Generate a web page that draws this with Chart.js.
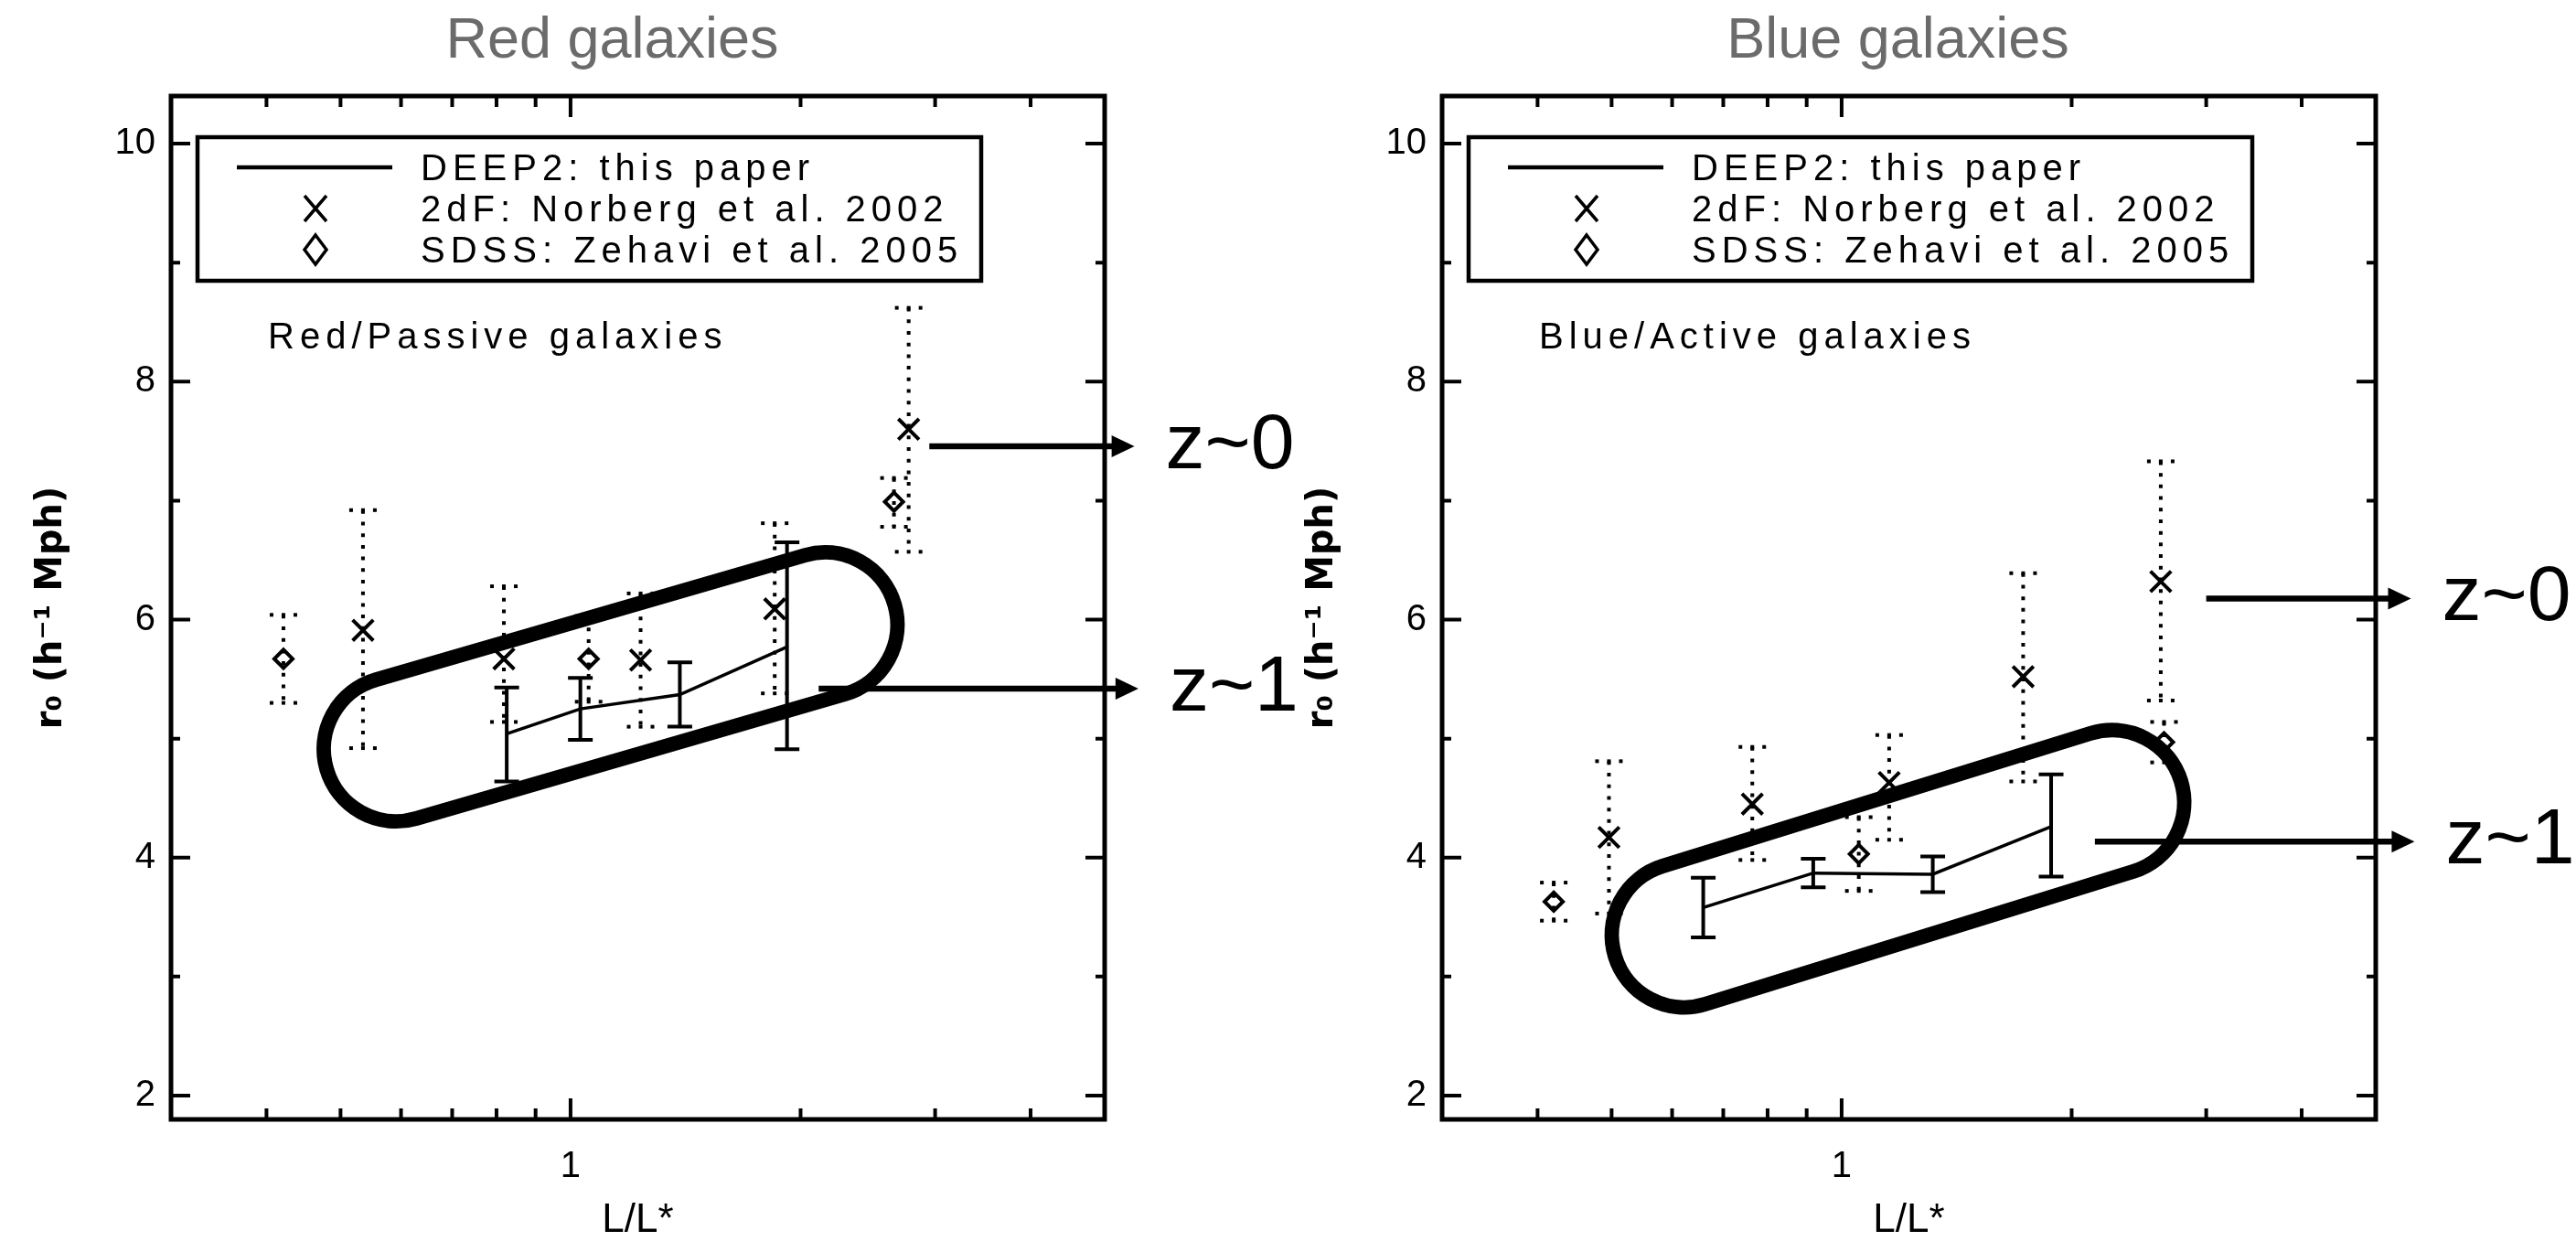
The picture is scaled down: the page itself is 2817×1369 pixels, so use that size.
<!DOCTYPE html>
<html>
<head>
<meta charset="utf-8">
<title>r0 vs L/L* — red and blue galaxies</title>
<script src="https://cdn.jsdelivr.net/npm/chart.js@4.4.1/dist/chart.umd.min.js"></script>
<style>
  html, body { margin: 0; padding: 0; background: #fff; }
  body { width: 2817px; height: 1369px; position: relative; overflow: hidden; }
  canvas { position: absolute; top: 0; }
  #red { left: 0; }
  #blue { left: 1390px; }
</style>
</head>
<body>
<canvas id="red" width="1427" height="1369"></canvas>
<canvas id="blue" width="1427" height="1369"></canvas>
<script>
// axes: log L/L* along x, r0 along y
const xRange = [0.3, 5];
const yRange = [1.8, 10.4];
const xMajorTicks = [1];
const xMinorTicks = [0.4, 0.5, 0.6, 0.7, 0.8, 0.9, 2, 3, 4];
const yMajorTicks = [2, 4, 6, 8, 10];
const yMinorTicks = [3, 5, 7, 9];

const legendLabels = ['DEEP2: this paper', '2dF: Norberg et al. 2002', 'SDSS: Zehavi et al. 2005'];

// red / passive sample
const redDeepL = [0.825, 1.03, 1.39, 1.92];
const redDeepR0 = [5.04, 5.25, 5.37, 5.77];
const redDeepLo = [4.64, 4.99, 5.10, 4.91];
const redDeepHi = [5.43, 5.51, 5.64, 6.65];

const red2dfL = [0.535, 0.818, 1.235, 1.85, 2.77];
const red2dfR0 = [5.91, 5.67, 5.66, 6.09, 7.60];
const red2dfLo = [4.92, 5.14, 5.10, 5.38, 6.57];
const red2dfHi = [6.92, 6.28, 6.22, 6.81, 8.62];

const redSdssL = [0.421, 1.056, 2.65];
const redSdssR0 = [5.67, 5.67, 6.99];
const redSdssLo = [5.30, 5.31, 6.78];
const redSdssHi = [6.04, 6.03, 7.19];

// blue / active sample
const blueDeepL = [0.659, 0.918, 1.316, 1.88];
const blueDeepR0 = [3.58, 3.87, 3.86, 4.26];
const blueDeepLo = [3.33, 3.75, 3.71, 3.84];
const blueDeepHi = [3.83, 3.99, 4.01, 4.70];

const blue2dfL = [0.496, 0.764, 1.154, 1.728, 2.616];
const blue2dfR0 = [4.17, 4.45, 4.63, 5.52, 6.32];
const blue2dfLo = [3.53, 3.98, 4.15, 4.64, 5.32];
const blue2dfHi = [4.81, 4.93, 5.03, 6.39, 7.33];

const blueSdssL = [0.420, 1.053, 2.642];
const blueSdssR0 = [3.63, 4.03, 4.97];
const blueSdssLo = [3.47, 3.72, 4.80];
const blueSdssHi = [3.79, 4.34, 5.14];

const sans = '"Liberation Sans", Arial, sans-serif';

const panels = [
  {
    canvas: 'red', title: 'Red galaxies', titleShift: -28, note: 'Red/Passive galaxies',
    deep: [redDeepL, redDeepR0, redDeepLo, redDeepHi],
    tdf: [red2dfL, red2dfR0, red2dfLo, red2dfHi],
    sdss: [redSdssL, redSdssR0, redSdssLo, redSdssHi],
    // outline round the DEEP2 points, given by its two end centres
    ring: { a: [0.591, 4.912], b: [2.154, 5.958] },
    arrows: [
      { label: 'z~0', r0: 7.456, from: 2.948, to: 5.47 },
      { label: 'z~1', r0: 5.419, from: 2.112, to: 5.535 }
    ]
  },
  {
    canvas: 'blue', title: 'Blue galaxies', titleShift: -12, note: 'Blue/Active galaxies',
    deep: [blueDeepL, blueDeepR0, blueDeepLo, blueDeepHi],
    tdf: [blue2dfL, blue2dfR0, blue2dfLo, blue2dfHi],
    sdss: [blueSdssL, blueSdssR0, blueSdssLo, blueSdssHi],
    ring: { a: [0.622, 3.349], b: [2.258, 4.464] },
    arrows: [
      { label: 'z~0', r0: 6.177, from: 3.0, to: 5.56 },
      { label: 'z~1', r0: 4.134, from: 2.145, to: 5.62 }
    ]
  }
];

function points(xs, ys) {
  return xs.map((x, i) => ({ x, y: ys[i] }));
}

function errorBars(chart, [xs, , lo, hi], dotted) {
  const { ctx, scales: { x, y } } = chart;
  ctx.save();
  ctx.strokeStyle = '#000';
  ctx.fillStyle = '#000';
  ctx.lineWidth = 4;
  xs.forEach((v, i) => {
    const px = x.getPixelForValue(v);
    const top = y.getPixelForValue(hi[i]);
    const bot = y.getPixelForValue(lo[i]);
    if (dotted) {
      ctx.setLineDash([4, 8.7]);
      ctx.beginPath();
      ctx.moveTo(px, top);
      ctx.lineTo(px, bot);
      ctx.stroke();
      ctx.setLineDash([]);
      // dotted caps
      [top, bot].forEach(py => [-13, 0, 13].forEach(dx => ctx.fillRect(px + dx - 2, py - 2, 4, 4)));
    } else {
      ctx.beginPath();
      ctx.moveTo(px, top);
      ctx.lineTo(px, bot);
      ctx.moveTo(px - 13.5, top);
      ctx.lineTo(px + 13.5, top);
      ctx.moveTo(px - 13.5, bot);
      ctx.lineTo(px + 13.5, bot);
      ctx.stroke();
    }
  });
  ctx.restore();
}

function drawRing(chart, ring) {
  const { ctx, scales: { x, y } } = chart;
  const a = { x: x.getPixelForValue(ring.a[0]), y: y.getPixelForValue(ring.a[1]) };
  const b = { x: x.getPixelForValue(ring.b[0]), y: y.getPixelForValue(ring.b[1]) };
  const t = Math.atan2(b.y - a.y, b.x - a.x);
  const r = 79;
  ctx.save();
  ctx.lineWidth = 16;
  ctx.strokeStyle = '#000';
  ctx.beginPath();
  ctx.arc(b.x, b.y, r, t - Math.PI / 2, t + Math.PI / 2);
  ctx.arc(a.x, a.y, r, t + Math.PI / 2, t + 3 * Math.PI / 2);
  ctx.closePath();
  ctx.stroke();
  ctx.restore();
}

function drawArrow(chart, arrow) {
  const { ctx, scales: { x, y } } = chart;
  const py = y.getPixelForValue(arrow.r0);
  const x0 = x.getPixelForValue(arrow.from);
  const x1 = x.getPixelForValue(arrow.to);
  ctx.save();
  ctx.strokeStyle = '#000';
  ctx.fillStyle = '#000';
  ctx.lineWidth = 6.5;
  ctx.beginPath();
  ctx.moveTo(x0, py);
  ctx.lineTo(x1 - 20, py);
  ctx.stroke();
  ctx.beginPath();
  ctx.moveTo(x1, py);
  ctx.lineTo(x1 - 25, py - 12);
  ctx.lineTo(x1 - 25, py + 12);
  ctx.closePath();
  ctx.fill();
  ctx.font = '86px ' + sans;
  ctx.textBaseline = 'middle';
  ctx.textAlign = 'left';
  ctx.fillText(arrow.label, x1 + 34, py);
  ctx.restore();
}

// inward ticks on all four sides plus the frame
function drawFrame(chart) {
  const { ctx, chartArea: area, scales: { x, y } } = chart;
  ctx.save();
  ctx.strokeStyle = '#000';
  ctx.lineWidth = 4;
  ctx.beginPath();
  const xt = (v, len) => {
    const px = x.getPixelForValue(v);
    ctx.moveTo(px, area.bottom); ctx.lineTo(px, area.bottom - len);
    ctx.moveTo(px, area.top); ctx.lineTo(px, area.top + len);
  };
  const yt = (v, len) => {
    const py = y.getPixelForValue(v);
    ctx.moveTo(area.left, py); ctx.lineTo(area.left + len, py);
    ctx.moveTo(area.right, py); ctx.lineTo(area.right - len, py);
  };
  xMajorTicks.forEach(v => xt(v, 23));
  xMinorTicks.forEach(v => xt(v, 12));
  yMajorTicks.forEach(v => yt(v, 21));
  yMinorTicks.forEach(v => yt(v, 10));
  ctx.stroke();
  ctx.lineWidth = 5;
  ctx.strokeRect(area.left, area.top, area.right - area.left, area.bottom - area.top);
  ctx.restore();
}

function drawLegend(chart, panel) {
  const { ctx, chartArea: area } = chart;
  const L = area.left, T = area.top;
  ctx.save();
  ctx.strokeStyle = '#000';
  ctx.fillStyle = '#000';
  ctx.lineWidth = 4.5;
  ctx.strokeRect(L + 29, T + 45, 857, 157);

  // sample line
  ctx.lineWidth = 4.5;
  ctx.beginPath();
  ctx.moveTo(L + 72, T + 78);
  ctx.lineTo(L + 242, T + 78);
  ctx.stroke();

  // cross and diamond symbols
  const sx = L + 158;
  ctx.lineWidth = 3.5;
  ctx.beginPath();
  ctx.moveTo(sx - 12, T + 109); ctx.lineTo(sx + 12, T + 137);
  ctx.moveTo(sx + 12, T + 109); ctx.lineTo(sx - 12, T + 137);
  ctx.moveTo(sx, T + 152); ctx.lineTo(sx + 12, T + 168);
  ctx.lineTo(sx, T + 184); ctx.lineTo(sx - 12, T + 168);
  ctx.closePath();
  ctx.stroke();

  ctx.font = '40px ' + sans;
  ctx.letterSpacing = '6px';
  ctx.textBaseline = 'alphabetic';
  ctx.textAlign = 'left';
  legendLabels.forEach((txt, i) => ctx.fillText(txt, L + 273, T + 92 + i * 45));
  ctx.fillText(panel.note, L + 106, T + 276);
  ctx.letterSpacing = '0px';

  // panel heading above the frame
  ctx.font = '63px ' + sans;
  ctx.fillStyle = '#6b6b6b';
  ctx.textAlign = 'center';
  ctx.fillText(panel.title, (area.left + area.right) / 2 + panel.titleShift, 63);
  ctx.restore();
}

function panelPlugin(panel) {
  return {
    id: 'panelExtras',
    beforeDatasetsDraw(chart) {
      errorBars(chart, panel.tdf, true);
      errorBars(chart, panel.sdss, true);
      errorBars(chart, panel.deep, false);
    },
    afterDatasetsDraw(chart) {
      drawRing(chart, panel.ring);
      panel.arrows.forEach(a => drawArrow(chart, a));
    },
    afterDraw(chart) {
      drawFrame(chart);
      drawLegend(chart, panel);
    }
  };
}

Chart.defaults.font.family = sans;
Chart.defaults.color = '#000';

panels.forEach(panel => {
  new Chart(document.getElementById(panel.canvas), {
    type: 'scatter',
    data: {
      datasets: [
        {
          label: legendLabels[0],
          data: points(panel.deep[0], panel.deep[1]),
          showLine: true,
          borderColor: '#000',
          borderWidth: 3.5,
          pointRadius: 0
        },
        {
          label: legendLabels[1],
          data: points(panel.tdf[0], panel.tdf[1]),
          pointStyle: 'crossRot',
          pointRadius: 16,
          borderWidth: 4,
          borderColor: '#000'
        },
        {
          label: legendLabels[2],
          data: points(panel.sdss[0], panel.sdss[1]),
          pointStyle: 'rectRot',
          pointRadius: 10,
          borderWidth: 4,
          borderColor: '#000',
          backgroundColor: 'rgba(0,0,0,0)'
        }
      ]
    },
    options: {
      responsive: false,
      animation: false,
      devicePixelRatio: 1,
      layout: { padding: { left: 33, right: 219, top: 105, bottom: 0 } },
      plugins: {
        legend: { display: false },
        tooltip: { enabled: false }
      },
      scales: {
        x: {
          type: 'logarithmic',
          min: xRange[0],
          max: xRange[1],
          grid: { display: false, drawTicks: false },
          border: { display: false },
          afterBuildTicks: s => { s.ticks = xMajorTicks.map(v => ({ value: v })); },
          afterFit: s => { s.height = 145; },
          ticks: { padding: 28, maxRotation: 0, font: { size: 40 }, callback: v => String(v) },
          title: { display: true, text: 'L/L*', font: { size: 44 }, padding: { top: 0, bottom: 8 } }
        },
        y: {
          min: yRange[0],
          max: yRange[1],
          grid: { display: false, drawTicks: false },
          border: { display: false },
          afterBuildTicks: s => { s.ticks = yMajorTicks.map(v => ({ value: v })); },
          afterFit: s => { s.width = 154; },
          ticks: { padding: 17, font: { size: 40 } },
          title: {
            display: true,
            text: 'r₀ (h⁻¹ Mph)',
            font: { family: '"DejaVu Sans", sans-serif', size: 40, weight: 'bold' },
            padding: { top: 0, bottom: 0 }
          }
        }
      }
    },
    plugins: [panelPlugin(panel)]
  });
});
</script>
</body>
</html>
